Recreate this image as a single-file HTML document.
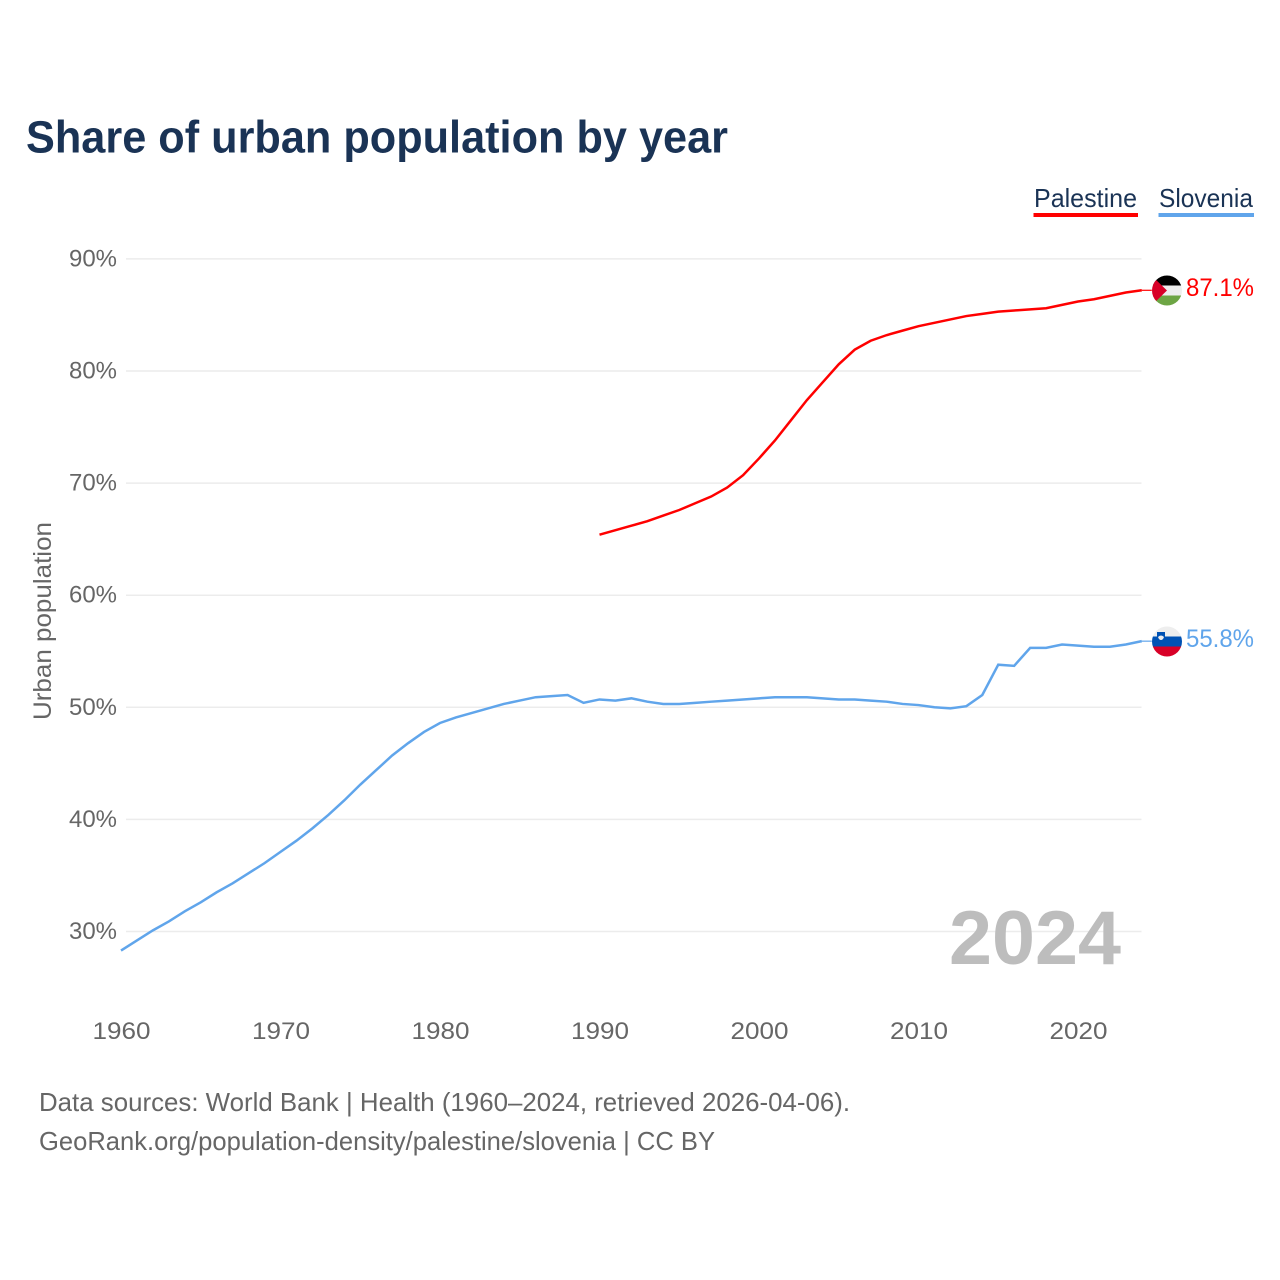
<!DOCTYPE html>
<html>
<head>
<meta charset="utf-8">
<title>Share of urban population by year</title>
<style>
html,body{margin:0;padding:0;background:#fff;}
svg{display:block;}
text{font-family:"Liberation Sans",sans-serif;}
</style>
</head>
<body>
<svg id="chart" xmlns="http://www.w3.org/2000/svg" width="1280" height="1280" viewBox="0 0 1280 1280">
  <defs>
    <clipPath id="clip-ps"><circle cx="1167" cy="290.5" r="15"/></clipPath>
    <clipPath id="clip-si"><circle cx="1167" cy="641.5" r="15"/></clipPath>
  </defs>
  <rect width="1280" height="1280" fill="#fff"/>
  <text x="26" y="152.500" font-size="45" font-weight="700" fill="#1a3355" textLength="702" lengthAdjust="spacingAndGlyphs">Share of urban population by year</text>
  <g id="grid"></g>
  <g id="yticks"></g>
  <g id="xticks"></g>
  <text transform="translate(51,621) rotate(-90)" text-anchor="middle" font-size="25" fill="#666" textLength="198" lengthAdjust="spacingAndGlyphs">Urban population</text>
  <text x="949" y="964" font-size="76" font-weight="700" fill="#bdbdbd" textLength="172" lengthAdjust="spacingAndGlyphs">2024</text>
  <g id="lines"></g>
  <g clip-path="url(#clip-ps)">
    <rect x="1151" y="275" width="32" height="10.5" fill="#000"/>
    <rect x="1151" y="285.5" width="32" height="10" fill="#eeeeee"/>
    <rect x="1151" y="295.5" width="32" height="11" fill="#6da544"/>
    <polygon points="1151,275 1167,290.5 1151,306" fill="#d80027"/>
  </g>
  <g clip-path="url(#clip-si)">
    <rect x="1151" y="626" width="32" height="10.5" fill="#eeeeee"/>
    <rect x="1151" y="636.5" width="32" height="10" fill="#0052b4"/>
    <rect x="1151" y="646.5" width="32" height="11" fill="#d80027"/>
    <path d="M1157 632h8v5q-1 3.500-4 4q-3-.5-4-4z" fill="#0052b4"/>
    <path d="M1158 637q3-3 6 0q-1 3-3 3q-2 0-3-3z" fill="#eeeeee"/>
  </g>
  <g>
    <g>
      <text x="1034" y="207" font-size="26" fill="#1a3355" textLength="103" lengthAdjust="spacingAndGlyphs">Palestine</text>
      <rect x="1033.500" y="213" width="104.500" height="4" fill="#ff0000"/>
    </g>
    <g>
      <text x="1159" y="207" font-size="26" fill="#1a3355" textLength="94" lengthAdjust="spacingAndGlyphs">Slovenia</text>
      <rect x="1158.500" y="213" width="95.500" height="4" fill="#60a5eb"/>
    </g>
  </g>
  <text x="1186" y="296" font-size="25" fill="#ff0000" textLength="68" lengthAdjust="spacingAndGlyphs">87.1%</text>
  <text x="1186" y="647" font-size="25" fill="#60a5eb" textLength="68" lengthAdjust="spacingAndGlyphs">55.8%</text>
  <text x="39" y="1111" font-size="26" fill="#666" textLength="811" lengthAdjust="spacingAndGlyphs">Data sources: World Bank | Health (1960–2024, retrieved 2026-04-06).</text>
  <text x="39" y="1150" font-size="26" fill="#666" textLength="676" lengthAdjust="spacingAndGlyphs">GeoRank.org/population-density/palestine/slovenia | CC BY</text>
</svg>
<script>
const yTickValues = [30, 40, 50, 60, 70, 80, 90];
const xTickYears = [1960, 1970, 1980, 1990, 2000, 2010, 2020];
const sloveniaStartYear = 1960;
const sloveniaValues = [28.3, 29.2, 30.1, 30.9, 31.8, 32.6, 33.5, 34.3, 35.2, 36.1, 37.1, 38.1, 39.2, 40.4, 41.7, 43.1, 44.4, 45.7, 46.8, 47.8, 48.6, 49.1, 49.5, 49.9, 50.3, 50.6, 50.9, 51.0, 51.1, 50.4, 50.7, 50.6, 50.8, 50.5, 50.3, 50.3, 50.4, 50.5, 50.6, 50.7, 50.8, 50.9, 50.9, 50.9, 50.8, 50.7, 50.7, 50.6, 50.5, 50.3, 50.2, 50.0, 49.9, 50.1, 51.1, 53.8, 53.7, 55.3, 55.3, 55.6, 55.5, 55.4, 55.4, 55.6, 55.9];
const palestineStartYear = 1990;
const palestineValues = [65.4, 65.8, 66.2, 66.6, 67.1, 67.6, 68.2, 68.8, 69.6, 70.7, 72.2, 73.8, 75.6, 77.4, 79.0, 80.6, 81.9, 82.7, 83.2, 83.6, 84.0, 84.3, 84.6, 84.9, 85.1, 85.3, 85.4, 85.5, 85.6, 85.9, 86.2, 86.4, 86.7, 87.0, 87.2];

const NS = 'http://www.w3.org/2000/svg';
function xScale(year) { return 121 + (year - 1960) * 15.95; }
function yScale(value) { return 931.5 - (value - 30) * 11.21; }

function linePath(startYear, values) {
  return values.map(function (v, i) {
    return (i ? 'L' : 'M') + xScale(startYear + i).toFixed(2) + ' ' + yScale(v).toFixed(2);
  }).join('');
}

const gridGroup = document.getElementById('grid');
const yTickGroup = document.getElementById('yticks');
const xTickGroup = document.getElementById('xticks');
const lineGroup = document.getElementById('lines');

yTickValues.forEach(function (v) {
  const g = document.createElementNS(NS, 'line');
  
  
  g.setAttribute('x1', 126);
  g.setAttribute('x2', 1141.5);
  g.setAttribute('y1', yScale(v));
  g.setAttribute('y2', yScale(v));
  g.setAttribute('stroke', '#ececec');
  g.setAttribute('stroke-width', 1.5);
  gridGroup.appendChild(g);

  const t = document.createElementNS(NS, 'text');
  
  
  t.setAttribute('x', 117);
  t.setAttribute('y', yScale(v) + 7.5);
  t.setAttribute('text-anchor', 'end');
  t.setAttribute('font-size', 24);
  t.setAttribute('fill', '#666');
  t.setAttribute('textLength', 48);
  t.setAttribute('lengthAdjust', 'spacingAndGlyphs');
  t.textContent = v + '%';
  yTickGroup.appendChild(t);
});

xTickYears.forEach(function (y) {
  const t = document.createElementNS(NS, 'text');
  
  
  t.setAttribute('x', xScale(y) + 0.5);
  t.setAttribute('y', 1039);
  t.setAttribute('text-anchor', 'middle');
  t.setAttribute('font-size', 24);
  t.setAttribute('fill', '#666');
  t.setAttribute('textLength', 58);
  t.setAttribute('lengthAdjust', 'spacingAndGlyphs');
  t.textContent = y;
  xTickGroup.appendChild(t);
});

function addLeader(startYear, values, color, name) {
  const last = values.length - 1;
  const l = document.createElementNS(NS, 'line');
  
  
  l.setAttribute('x1', xScale(startYear + last));
  l.setAttribute('x2', xScale(startYear + last) + 10);
  l.setAttribute('y1', yScale(values[last]));
  l.setAttribute('y2', yScale(values[last]));
  l.setAttribute('stroke', color);
  l.setAttribute('stroke-width', 1.2);
  lineGroup.appendChild(l);
}

const sloveniaLine = document.createElementNS(NS, 'path');


sloveniaLine.setAttribute('d', linePath(sloveniaStartYear, sloveniaValues));
sloveniaLine.setAttribute('fill', 'none');
sloveniaLine.setAttribute('stroke', '#60a5eb');
sloveniaLine.setAttribute('stroke-width', 2.5);
lineGroup.appendChild(sloveniaLine);

const palestineLine = document.createElementNS(NS, 'path');


palestineLine.setAttribute('d', linePath(palestineStartYear, palestineValues));
palestineLine.setAttribute('fill', 'none');
palestineLine.setAttribute('stroke', '#ff0000');
palestineLine.setAttribute('stroke-width', 2.5);
lineGroup.appendChild(palestineLine);

addLeader(sloveniaStartYear, sloveniaValues, '#60a5eb', 'slovenia-leader-line');
addLeader(palestineStartYear, palestineValues, '#ff0000', 'palestine-leader-line');
</script>
</body>
</html>
